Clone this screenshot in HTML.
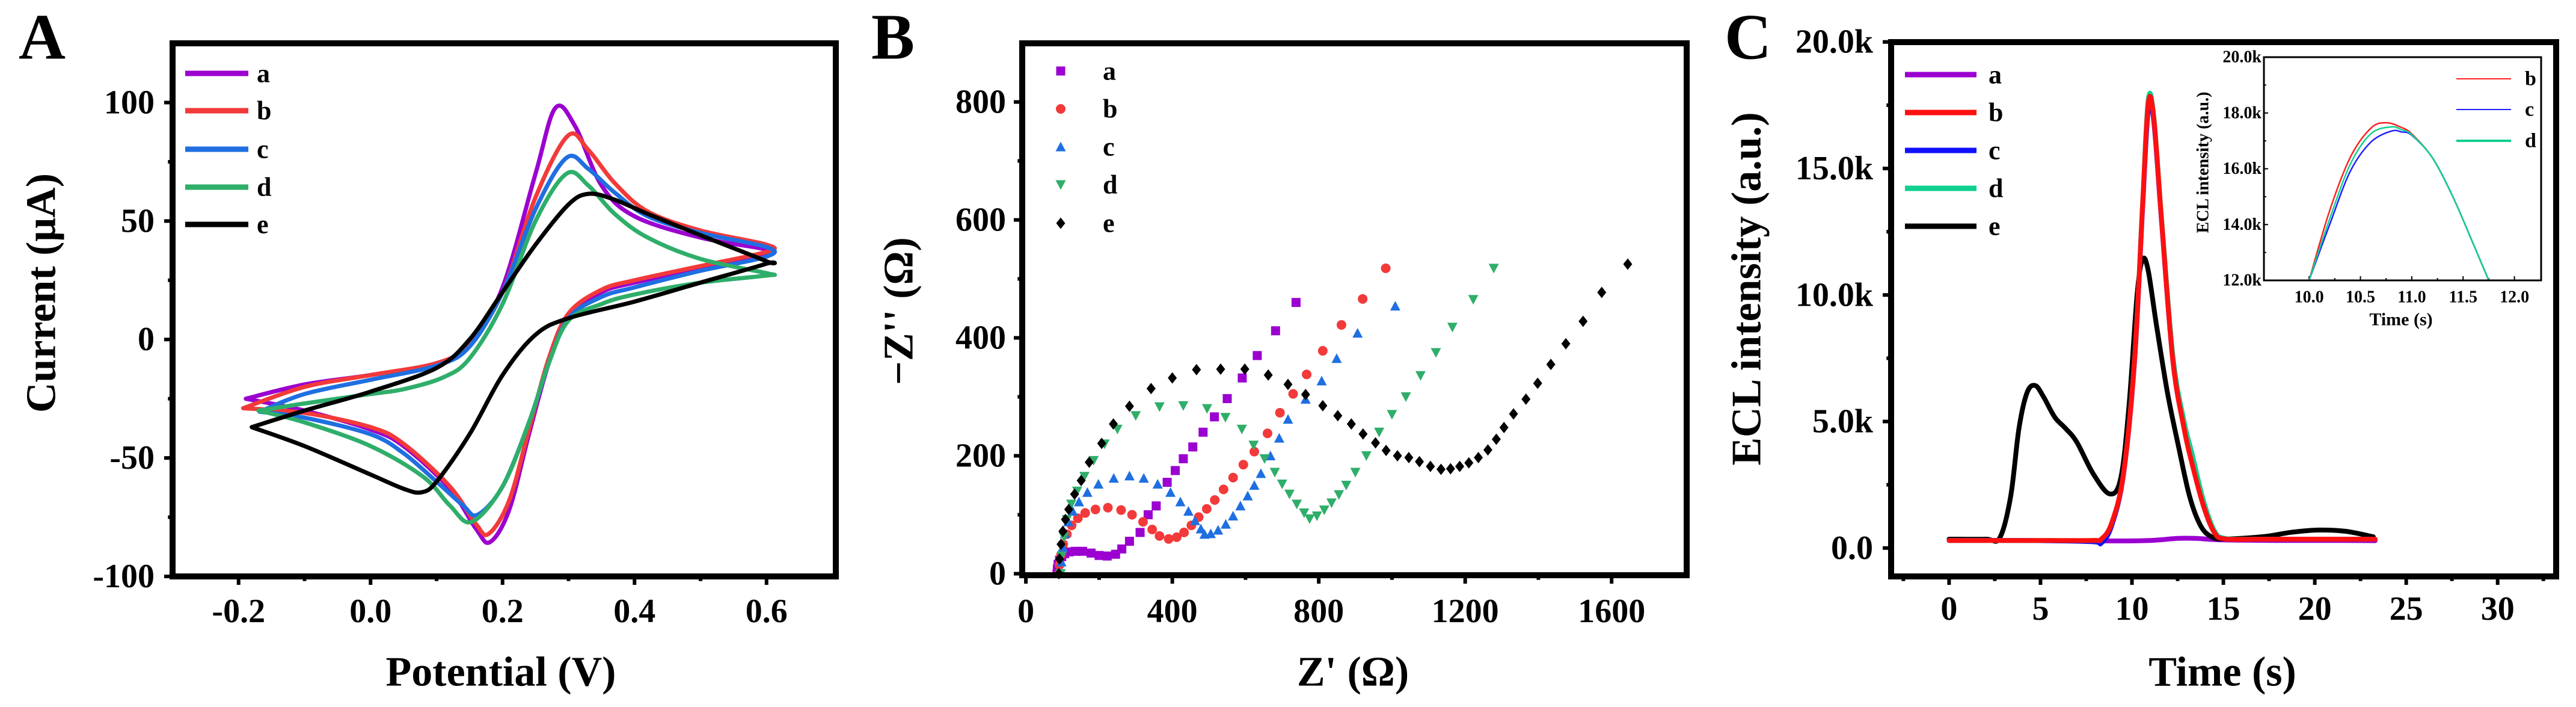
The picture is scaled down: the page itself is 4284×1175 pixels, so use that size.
<!DOCTYPE html>
<html><head><meta charset="utf-8">
<style>
html,body{margin:0;padding:0;background:#fff;}
svg{display:block;font-family:"Liberation Serif","DejaVu Serif",serif;font-weight:bold;}
</style></head>
<body>
<svg id="fig" width="4284" height="1175" viewBox="0 0 4284 1175" xmlns="http://www.w3.org/2000/svg"></svg>
<script>
// ---------- Panel A: CV data ----------
const cvE_a=[-0.189,-0.1,0.0,0.1,0.15,0.2,0.25,0.28,0.31,0.35,0.4,0.5,0.6,0.6,0.5,0.4,0.35,0.3,0.27,0.24,0.21,0.181,0.16,0.12,0.05,0.0,-0.1,-0.189];
const cvI_a=[-25,-19,-15,-10,-2,22,70,97.7,90,65,52,43,38,36,30,24,20,10,-10,-40,-72,-85.5,-80,-63,-45,-38,-30,-25];
const cvE_b=[-0.193,-0.1,0.0,0.1,0.15,0.2,0.25,0.299,0.33,0.37,0.42,0.5,0.6,0.6,0.5,0.4,0.35,0.3,0.27,0.24,0.21,0.179,0.16,0.12,0.05,0.0,-0.1,-0.193];
const cvI_b=[-29,-20,-15,-10,-2,20,60,86,80,66,54,46,40,37,31,25,21,11,-8,-38,-68,-82,-78,-62,-44,-37,-31,-29];
const cvE_c=[-0.168,-0.1,0.0,0.1,0.15,0.2,0.25,0.297,0.33,0.37,0.42,0.5,0.6,0.6,0.5,0.4,0.35,0.3,0.27,0.24,0.2,0.162,0.14,0.1,0.05,0.0,-0.1,-0.168];
const cvI_c=[-30.5,-23,-17,-11,-3,20,55,76.7,72,62,52,45,39,35,29,22,18,9,-10,-35,-62,-74,-70,-60,-48,-40,-33,-30.5];
const cvE_d=[-0.17,-0.1,0.0,0.05,0.11,0.15,0.2,0.25,0.297,0.33,0.37,0.42,0.5,0.6,0.6,0.5,0.4,0.35,0.3,0.27,0.24,0.2,0.153,0.12,0.08,0.0,-0.1,-0.17];
const cvI_d=[-30,-27,-23,-21,-16,-8,15,50,70,65,53,43,34,28,27,24,19,15,8,-10,-35,-62,-77,-70,-58,-45,-35,-30];
const cvE_e=[-0.18,-0.1,0.0,0.1,0.15,0.2,0.25,0.3,0.331,0.37,0.42,0.5,0.6,0.6,0.5,0.4,0.3,0.25,0.2,0.15,0.1,0.077,0.05,0.0,-0.1,-0.18];
const cvI_e=[-37,-30,-22,-12,0,20,40,57,61.5,59,53,44,33,32,24,16,9,2,-15,-40,-60,-64.5,-63,-57,-45,-37];

// ---------- Panel B: Nyquist data ----------
const nyX_a=[85,86,88,92,98,106,118,135,155,178,200,222,245,262,283,312,334,356,386,408,430,456,484,515,550,591,632,682,738];
const nyY_a=[0,8,16,23,29,34,37,38,38,35,31,30,33,42,55,70,100,115,155,175,195,215,240,266,297,332,370,412,460];
const nyX_b=[90,92,96,102,112,125,142,162,190,224,260,290,320,345,365,390,412,432,452,472,494,516,540,566,594,624,660,694,730,767,811,862,920,983];
const nyY_b=[0,15,32,50,67,82,94,103,109,112,108,100,88,75,64,59,62,70,82,96,110,125,143,163,185,207,238,273,305,338,378,422,466,518];
const nyX_c=[95,97,101,107,116,128,145,168,198,240,283,322,360,395,422,444,462,478,488,505,525,546,566,586,606,624,642,668,692,716,764,808,849,906,1009];
const nyY_c=[0,20,45,68,88,106,122,138,152,162,166,162,152,138,122,106,90,76,67,68,74,84,98,115,132,150,170,200,230,262,296,327,365,408,454,510].slice(0,35);
const nyX_d=[95,98,104,112,124,140,160,185,215,250,300,365,430,495,545,590,622,652,680,700,720,740,760,775,795,815,835,855,875,900,930,965,1000,1038,1078,1120,1165,1222,1278];
const nyY_d=[0,30,62,92,118,140,165,192,220,245,268,283,285,280,265,245,218,195,172,152,135,118,103,93,98,108,120,134,150,172,200,240,270,300,336,375,418,465,518];
const nyX_e=[90,92,96,101,108,117,133,151,173,207,239,283,342,400,466,532,598,662,716,764,811,852,889,921,955,984,1015,1046,1075,1105,1134,1160,1185,1210,1236,1262,1285,1306,1332,1366,1398,1434,1475,1522,1573,1644];
const nyY_e=[0,25,50,72,92,109,135,158,189,221,254,284,314,332,346,347,347,337,321,304,285,268,254,237,222,209,200,197,190,182,177,178,182,188,197,210,228,248,271,296,323,355,390,428,477,525];

// ---------- Panel C: ECL data ----------
const eclT_a=[0,3,6,9,11,12.5,13.5,15,18,21,23.3];
const eclV_a=[300,300,290,280,300,380,380,320,300,300,290];
const eclT_b=[0,4,7.8,8.33,8.9,9.54,10.14,10.59,10.89,11.19,11.64,12.24,12.85,13.3,13.9,14.5,15.1,17,20,23.3];
const eclV_b=[300,300,300,360,1000,2940,7400,13640,17560,17020,12750,7400,4720,3300,1690,620,360,350,350,350];
const eclT_c=[0,4,7.8,8.33,8.9,9.54,10.14,10.59,10.89,11.19,11.64,12.24,12.85,13.3,13.9,14.5,15.1,17,20,23.3];
const eclV_c=[300,300,250,200,900,2900,7350,13500,17300,16900,12700,7400,4750,3400,1700,620,360,350,350,350];
const eclT_d=[0,4,7.8,8.33,8.9,9.54,10.14,10.59,10.89,11.19,11.64,12.24,12.85,13.3,13.9,14.5,15.1,17,20,23.3];
const eclV_d=[300,300,300,360,1000,2940,7450,13700,17700,17100,12850,7600,5000,3700,1900,700,380,350,350,350];
const eclT_e=[0,2,2.77,3.37,3.82,4.27,4.72,5.17,5.78,6.38,6.98,7.88,8.78,9.39,9.84,10.29,10.59,10.89,11.34,11.94,12.55,13.15,13.75,14.35,15.1,17.2,18.7,20.2,21.7,23.2];
const eclV_e=[350,350,400,2050,4720,6150,6420,5970,5170,4720,4190,2940,2140,2760,5615,10070,11410,10960,8820,6150,4010,2050,890,445,360,450,620,710,660,445];
// inset
const insT_b=[10.0,10.2,10.4,10.6,10.75,10.9,11.0,11.2,11.4,11.6,11.75];
const insV_b=[12000,14500,16400,17450,17650,17480,17250,16400,15000,13300,12000];
const insT_c=[10.0,10.2,10.4,10.6,10.8,10.9,11.0,11.2,11.4,11.6,11.75];
const insV_c=[12000,14000,15900,16950,17350,17320,17200,16400,15000,13300,12000];
const insT_d=[10.0,10.2,10.4,10.6,10.8,10.9,11.0,11.2,11.4,11.6,11.75];
const insV_d=[12000,14200,16150,17250,17500,17400,17220,16400,15000,13300,12000];

// tick labels
const ticksA_x=[-0.2,0.0,0.2,0.4,0.6];
const ticksA_xLab=["-0.2","0.0","0.2","0.4","0.6"];
const ticksA_y=[-100,-50,0,50,100];
const ticksB_x=[0,400,800,1200,1600];
const ticksB_y=[0,200,400,600,800];
const ticksC_x=[0,5,10,15,20,25,30];
const ticksC_y=[0,5000,10000,15000,20000];
const ticksC_yLab=["0.0","5.0k","10.0k","15.0k","20.0k"];
const ticksI_x=[10.0,10.5,11.0,11.5,12.0];
const ticksI_y=[12000,14000,16000,18000,20000];
const ticksI_yLab=["12.0k","14.0k","16.0k","18.0k","20.0k"];

const NS="http://www.w3.org/2000/svg";
const svg=document.getElementById('fig');
function mk(tag,attrs,parent){const e=document.createElementNS(NS,tag);for(const k in attrs)e.setAttribute(k,attrs[k]);(parent||svg).appendChild(e);return e;}
function lin(d0,d1,r0,r1){return v=>r0+(v-d0)/(d1-d0)*(r1-r0);}
function smooth(pts){
  let d="M"+pts[0][0].toFixed(1)+","+pts[0][1].toFixed(1);
  for(let i=0;i<pts.length-1;i++){
    const p0=pts[Math.max(i-1,0)],p1=pts[i],p2=pts[i+1],p3=pts[Math.min(i+2,pts.length-1)];
    const c1x=p1[0]+(p2[0]-p0[0])/6,c1y=p1[1]+(p2[1]-p0[1])/6;
    const c2x=p2[0]-(p3[0]-p1[0])/6,c2y=p2[1]-(p3[1]-p1[1])/6;
    d+=" C"+c1x.toFixed(1)+","+c1y.toFixed(1)+" "+c2x.toFixed(1)+","+c2y.toFixed(1)+" "+p2[0].toFixed(1)+","+p2[1].toFixed(1);
  }
  return d;
}
function txt(s,x,y,size,anchor,parent,extra){const t=mk('text',Object.assign({x:x,y:y,'font-size':size,'text-anchor':anchor||'middle','dominant-baseline':'central',fill:'#000'},extra||{}),parent);t.textContent=s;return t;}

function frame(g,L,R,T,B,sw){
  const r=mk('rect',{x:L,y:T,width:R-L,height:B-T,fill:'none',stroke:'#000','stroke-width':sw},g);
  
  
}
function xTicks(g,sx,B,majors,minors,len,sw){
  majors.forEach(v=>{const l=mk('line',{x1:sx(v),x2:sx(v),y1:B,y2:B+len,stroke:'#000','stroke-width':sw},g);
    
    });
  minors.forEach(v=>{const l=mk('line',{x1:sx(v),x2:sx(v),y1:B,y2:B+len*0.55,stroke:'#000','stroke-width':sw},g);
    
    });
}
function yTicks(g,sy,L,majors,minors,len,sw){
  majors.forEach(v=>{const l=mk('line',{x1:L,x2:L-len,y1:sy(v),y2:sy(v),stroke:'#000','stroke-width':sw},g);
    
    });
  minors.forEach(v=>{const l=mk('line',{x1:L,x2:L-len*0.55,y1:sy(v),y2:sy(v),stroke:'#000','stroke-width':sw},g);
    
    });
}
function curve(g,xs,ys,sx,sy,color,w,name){
  const pts=xs.map((x,i)=>[sx(x),sy(ys[i])]);
  const p=mk('path',{d:smooth(pts),fill:'none',stroke:color,'stroke-width':w,'stroke-linejoin':'round','stroke-linecap':'round'},g);
  
  
}
const COL={a:'#9b00d0',b:'#f23a3a',c:'#1f6fe0',d:'#2fae6a',e:'#000'};

// ===== Panel A =====
(function(){
  const g=mk('g',{});
  
  
  const L=287,R=1390,T=72,B=958;
  const sx=lin(-0.3,0.705,L,R), sy=lin(-100,125,B,T);
  const lbl=txt('A',70,62,108,'middle',g);
  
  
  xTicks(g,sx,B,ticksA_x,[-0.1,0.1,0.3,0.5],14,6);
  yTicks(g,sy,L,ticksA_y,[-75,-25,25,75],14,6);
  ticksA_x.forEach((v,i)=>{const t=txt(ticksA_xLab[i],sx(v),1016,56,'middle',g);
    
    });
  ticksA_y.forEach(v=>{const t=txt(String(v),257,sy(v),56,'end',g);
    
    });
  const xt=txt('Potential (V)',833,1117,70,'middle',g);
  
  
  const yt=txt('Current (μA)',0,0,70,'middle',g,{transform:'translate(69,487) rotate(-90)'});
  
  
  const S=[['a',cvE_a,cvI_a],['b',cvE_b,cvI_b],['c',cvE_c,cvI_c],['d',cvE_d,cvI_d],['e',cvE_e,cvI_e]];
  S.forEach(s=>curve(g,s[1],s[2],sx,sy,COL[s[0]],7,'cv-curve-'+s[0]));
  const ly=[122,184,248,311,373];
  S.forEach((s,i)=>{
    const l=mk('line',{x1:308,x2:413,y1:ly[i],y2:ly[i],stroke:COL[s[0]],'stroke-width':9},g);
    
    
    const t=txt(s[0],427,ly[i],44,'start',g);
    
    
  });
  frame(g,L,R,T,B,10);
})();

// ===== Panel B =====
(function(){
  const g=mk('g',{});
  
  
  const L=1700,R=2805,T=72,B=956;
  const sx=lin(-10,1805,L,R), sy=lin(0,900,953.5,71.5);
  const lbl=txt('B',1485,62,108,'middle',g);
  
  
  xTicks(g,sx,B,ticksB_x,[200,600,1000,1400],14,6);
  yTicks(g,sy,L,ticksB_y,[100,300,500,700],14,6);
  ticksB_x.forEach(v=>{const t=txt(String(v),sx(v),1016,56,'middle',g);
    
    });
  ticksB_y.forEach(v=>{const t=txt(String(v),1673,sy(v),56,'end',g);
    
    });
  const xt=txt("Z' (Ω)",2250,1117,70,'middle',g);
  
  
  const yt=txt("−Z'' (Ω)",0,0,70,'middle',g,{transform:'translate(1495,517) rotate(-90)'});
  
  
  function marker(kind,x,y,c,parent){
    const s=7.5;let e;
    if(kind==='a') e=mk('rect',{x:x-s,y:y-s,width:2*s,height:2*s,fill:c},parent);
    else if(kind==='b') e=mk('circle',{cx:x,cy:y,r:s+0.5,fill:c},parent);
    else if(kind==='c') e=mk('polygon',{points:`${x},${y-s-1} ${x+s+1},${y+s} ${x-s-1},${y+s}`,fill:c},parent);
    else if(kind==='d') e=mk('polygon',{points:`${x},${y+s+1} ${x+s+1},${y-s} ${x-s-1},${y-s}`,fill:c},parent);
    else e=mk('polygon',{points:`${x},${y-s-2} ${x+s},${y} ${x},${y+s+2} ${x-s},${y}`,fill:c},parent);
    return e;
  }
  const S=[['a',nyX_a,nyY_a],['b',nyX_b,nyY_b],['c',nyX_c,nyY_c],['d',nyX_d,nyY_d],['e',nyX_e,nyY_e]];
  S.forEach(s=>{
    const sg=mk('g',{},g);
    
    
    s[1].forEach((x,i)=>{const m=marker(s[0],sx(x),sy(s[2][i]),COL[s[0]],sg);
      
      });
  });
  const ly=[118,181,244,307,371];
  S.forEach((s,i)=>{
    const m=marker(s[0],1764,ly[i],COL[s[0]],g);
    
    
    const t=txt(s[0],1834,ly[i],44,'start',g);
    
    
  });
  frame(g,L,R,T,B,10);
})();

// ===== Panel C =====
(function(){
  const g=mk('g',{});
  
  
  const L=3145,R=4251,T=70,B=958;
  const sx=lin(-3.17,33.2,L,R), sy=lin(0,20000,910.8,69.7);
  const lbl=txt('C',2907,62,108,'middle',g);
  
  
  xTicks(g,sx,B,ticksC_x,[2.5,7.5,12.5,17.5,22.5,27.5,-2.5,32.5],14,6);
  yTicks(g,sy,L,ticksC_y,[2500,7500,12500,17500],14,6);
  ticksC_x.forEach(v=>{const t=txt(String(v),sx(v),1012,56,'middle',g);
    
    });
  ticksC_y.forEach((v,i)=>{const t=txt(ticksC_yLab[i],3115,sy(v),56,'end',g);
    
    });
  const xt=txt('Time (s)',3696,1117,70,'middle',g);
  
  
  const yt=txt('ECL intensity (a.u.)',0,0,70,'middle',g,{transform:'translate(2905,480) rotate(-90)'});
  
  
  const S=[['a',eclT_a,eclV_a],['e',eclT_e,eclV_e],['c',eclT_c,eclV_c],['d',eclT_d,eclV_d],['b',eclT_b,eclV_b]];
  const CC={a:'#9b00d0',b:'#ff1010',c:'#1010ff',d:'#10d090',e:'#000'};
  S.forEach(s=>curve(g,s[1],s[2],sx,sy,CC[s[0]],8,'ecl-curve-'+s[0]));
  const ly=[124,187,250,313,376];
  ['a','b','c','d','e'].forEach((k,i)=>{
    const l=mk('line',{x1:3168,x2:3287,y1:ly[i],y2:ly[i],stroke:CC[k],'stroke-width':9},g);
    
    
    const t=txt(k,3307,ly[i],44,'start',g);
    
    
  });
  frame(g,L,R,T,B,10);

  // inset
  const ig=mk('g',{},g);
  
  
  const iL=3765,iR=4226,iT=95,iB=466;
  const isx=lin(9.56,12.26,iL,iR), isy=lin(12000,20000,iB,iT);
  xTicks(ig,isx,iB,ticksI_x,[10.25,10.75,11.25,11.75],-7,2);
  yTicks(ig,isy,iL,ticksI_y,[13000,15000,17000,19000],-7,2);
  ticksI_x.forEach(v=>{const t=txt(v.toFixed(1),isx(v),494,28,'middle',ig);
    
    });
  ticksI_y.forEach((v,i)=>{const t=txt(ticksI_yLab[i],iL-4,isy(v),28,'end',ig);
    
    });
  const ixt=txt('Time (s)',3993,531,30,'middle',ig);
  
  
  const iyt=txt('ECL intensity (a.u.)',0,0,28,'middle',ig,{transform:'translate(3664,270) rotate(-90)'});
  
  
  const IS=[['b',insT_b,insV_b],['c',insT_c,insV_c],['d',insT_d,insV_d]];
  const IC={b:'#ff2020',c:'#2020ff',d:'#10d090'};
  IS.forEach(s=>curve(ig,s[1],s[2],isx,isy,IC[s[0]],2.5,'inset-curve-'+s[0]));
  const ily=[131,182,234];
  IS.forEach((s,i)=>{
    const l=mk('line',{x1:4085,x2:4176,y1:ily[i],y2:ily[i],stroke:IC[s[0]],'stroke-width':s[0]==='d'?4:2},ig);
    
    
    const t=txt(s[0],4199,ily[i],34,'start',ig);
    
    
  });
  const ifr=mk('rect',{x:iL,y:iT,width:iR-iL,height:iB-iT,fill:'none',stroke:'#000','stroke-width':3},ig);
  
  
})();
</script>
</body></html>
